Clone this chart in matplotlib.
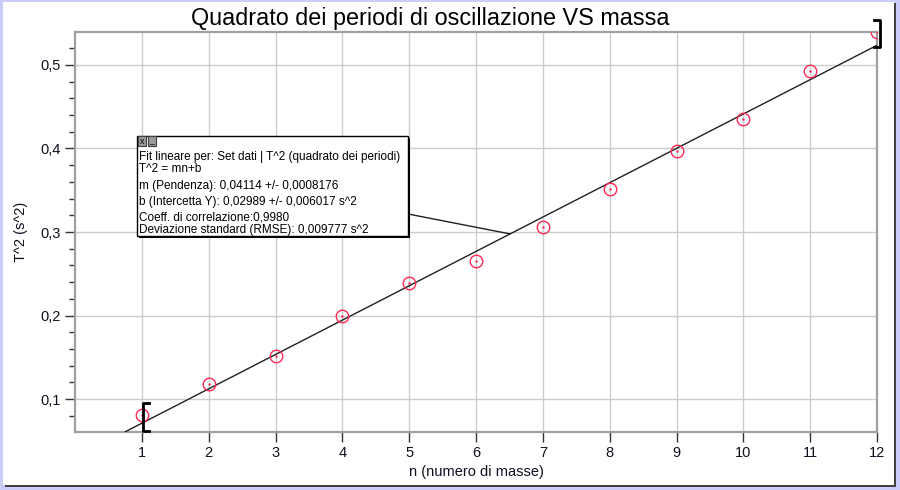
import matplotlib
matplotlib.use("Agg")
import matplotlib.pyplot as plt
from matplotlib.patches import Rectangle, ConnectionPatch
from matplotlib.ticker import MultipleLocator, FixedLocator, FuncFormatter

# dati
n_masse = [1, 2, 3, 4, 5, 6, 7, 8, 9, 10, 11, 12]
T2 = [0.081, 0.118, 0.1515, 0.200, 0.239, 0.2647, 0.306, 0.351, 0.397, 0.4353, 0.4928, 0.539]

# parametri del fit lineare (dal riquadro)
m_fit = 0.04114
b_fit = 0.02989
fit_x = [0.75, 12]

testo_fit = [
    "Fit lineare per: Set dati | T^2 (quadrato dei periodi)",
    "T^2 = mn+b",
    "m (Pendenza): 0,04114 +/- 0,0008176",
    "b (Intercetta Y): 0,02989 +/- 0,006017 s^2",
    "Coeff. di correlazione:0,9980",
    "Deviazione standard (RMSE): 0,009777 s^2",
]

plt.rcParams["font.family"] = ["Liberation Sans", "DejaVu Sans"]

W, H = 900, 490
fig = plt.figure(figsize=(W / 100, H / 100), dpi=100)
fig.patch.set_facecolor("#ccccf8")


def px(x, y):
    # pixel (dall'alto) -> coordinate figura
    return x / W, 1 - y / H


# sfondo bianco con ombra
fig.add_artist(Rectangle(px(5, 487), 891 / W, 484 / H, transform=fig.transFigure,
                         facecolor="#404040", edgecolor="none", zorder=-3))
fig.add_artist(Rectangle(px(3, 485), 891 / W, 483 / H, transform=fig.transFigure,
                         facecolor="white", edgecolor="none", zorder=-2))

l, b = px(75, 432)
r, t = px(877, 32)
ax = fig.add_axes([l, b, r - l, t - b])
ax.set_facecolor("white")

ax.set_xlim(0, 12)
ax.set_ylim(0.0605, 0.5395)
ax.xaxis.set_major_locator(FixedLocator(n_masse))
ax.yaxis.set_major_locator(MultipleLocator(0.1))
ax.yaxis.set_minor_locator(MultipleLocator(0.02))
ax.xaxis.set_major_formatter(FuncFormatter(lambda v, p: f"{int(v)}"))
ax.yaxis.set_major_formatter(FuncFormatter(lambda v, p: f"{v:.1f}".replace(".", ",")))
ax.grid(True, which="major", color="#cccccc", linewidth=1)
ax.set_axisbelow(True)
for s in ax.spines.values():
    s.set_color("#a0a0a0")
    s.set_linewidth(1.6)
ax.tick_params(axis="both", which="major", length=7, width=1, color="#333333",
               labelsize=10.5, labelcolor="#101020")
ax.tick_params(axis="y", which="minor", length=4, width=1, color="#333333")
ax.tick_params(axis="x", pad=3)

# fit
fx = fit_x
fy = [m_fit * v + b_fit for v in fx]
ax.plot(fx, fy, color="#202020", linewidth=1, zorder=3)

# punti
ax.plot(n_masse, T2, linestyle="none", marker="o", markersize=9, markerfacecolor="none",
        markeredgecolor="#ff2a55", markeredgewidth=1, zorder=4)
ax.plot(n_masse, T2, linestyle="none", marker=".", markersize=1.5,
        color="#ff2a55", zorder=4)

# parentesi dell'intervallo di fit
ax.plot([1.1, 1.02, 1.02, 1.1], [0.0952, 0.0952, 0.0617, 0.0617], color="black",
        linewidth=2, clip_on=False, zorder=5)
ax.plot([11.95, 12.04, 12.04, 11.95], [0.554, 0.554, 0.5216, 0.5216], color="black",
        linewidth=2, clip_on=False, zorder=5)

# etichette
fig.text(430 / W, 1 - 7 / H, "Quadrato dei periodi di oscillazione VS massa",
         ha="center", va="top", fontsize=16.8, color="black")
ax.set_xlabel("n (numero di masse)", fontsize=10.5, color="#101020", labelpad=4)
ax.set_ylabel("T^2 (s^2)", fontsize=10.5, color="#101020", labelpad=9)

# riquadro del fit
bx0, by0, bx1, by1 = 137, 136, 408, 236
fig.add_artist(Rectangle(px(bx0 + 2, by1 + 2), (bx1 - bx0) / W, (by1 - by0) / H,
                         transform=fig.transFigure, facecolor="black", edgecolor="none", zorder=6))
fig.add_artist(Rectangle(px(bx0, by1), (bx1 - bx0) / W, (by1 - by0) / H,
                         transform=fig.transFigure, facecolor="white", edgecolor="black",
                         linewidth=1, zorder=7))
# pulsanti
for i, sym in enumerate(["x", "_"]):
    x0 = bx0 + 1 + i * 10
    fig.add_artist(Rectangle(px(x0, by0 + 10), 8 / W, 10 / H, transform=fig.transFigure,
                             facecolor="#9a9a9a", edgecolor="#404040", linewidth=0.8, zorder=8))
    fig.text((x0 + 4) / W, 1 - (by0 + 5) / H, sym, ha="center", va="center",
             fontsize=6.5, color="black", zorder=9)

righe_y = [157, 169, 186, 202, 218, 230]
for riga, yy in zip(testo_fit, righe_y):
    fig.text(139 / W, 1 - yy / H, riga, ha="left", va="center", fontsize=8.5,
             color="black", zorder=9)

# linea di collegamento al fit
xc = 6.51
con = ConnectionPatch(xyA=(bx1, H - 214), coordsA="figure pixels",
                      xyB=(xc, m_fit * xc + b_fit), coordsB="data", axesB=ax,
                      color="#202020", linewidth=1, zorder=5)
fig.add_artist(con)

fig.savefig("out.png", dpi=100, facecolor=fig.get_facecolor())
